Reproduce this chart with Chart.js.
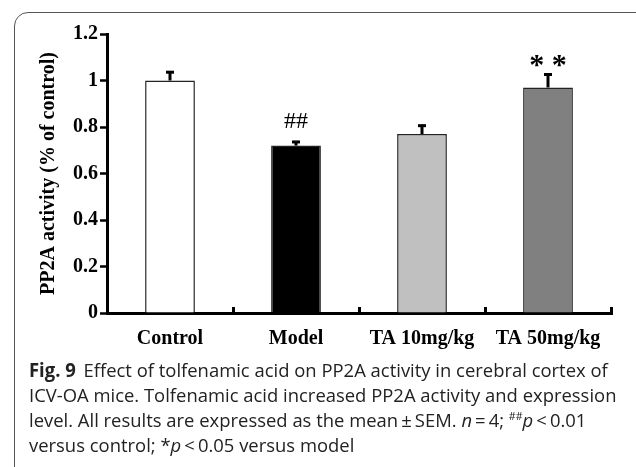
<!DOCTYPE html>
<html>
<head>
<meta charset="utf-8">
<script src="https://cdn.jsdelivr.net/npm/chart.js@4.4.1/dist/chart.umd.min.js"></script>
<style>
  html, body { margin: 0; padding: 0; background: #fff; }
  body { width: 636px; height: 467px; position: relative; overflow: hidden; }
  #frame {
    position: absolute; left: 14px; top: 12px; width: 640px; height: 500px;
    border: 1.5px solid #555; border-radius: 14px; box-sizing: border-box;
  }
  #chartBox { position: absolute; left: 0; top: 0; width: 636px; height: 376px; }
  #caption {
    position: absolute; left: 29px; top: 358px;
    font-family: "Open Sans", sans-serif; font-size: 19px; line-height: 25px;
    color: #222; white-space: nowrap;
    transform: scaleX(0.97); transform-origin: left top;
  }
  #caption b { font-weight: 700; margin-right: 8px; }
  #caption sup { font-size: 11px; line-height: 0; vertical-align: 7px; }
</style>
</head>
<body>
<div id="frame"></div>
<div id="chartBox"><canvas id="pp2aChart"></canvas></div>
<div id="caption">
  <div><b>Fig. 9</b>Effect of tolfenamic acid on PP2A activity in cerebral cortex of</div>
  <div>ICV-OA mice. Tolfenamic acid increased PP2A activity and expression</div>
  <div>level. All results are expressed as the mean&#8201;±&#8201;SEM. <i>n</i>&#8201;=&#8201;4; <sup>##</sup><i>p</i>&#8201;&lt;&#8201;0.01</div>
  <div>versus control; *<i>p</i>&#8201;&lt;&#8201;0.05 versus model</div>
</div>
<script>
const categories = ['Control', 'Model', 'TA 10mg/kg', 'TA 50mg/kg'];
const activity = [1.0, 0.72, 0.77, 0.97];
const sem = [0.04, 0.02, 0.04, 0.06];
const marks = ['', '##', '', '* *'];
const barColors = ['#ffffff', '#000000', '#c0c0c0', '#808080'];

const serif = '"Liberation Serif", "Times New Roman", serif';

// error bars (upper half only) and significance marks
const errorBarPlugin = {
  id: 'errorBars',
  afterDatasetsDraw(chart) {
    const ctx = chart.ctx;
    const yScale = chart.scales.y;
    const meta = chart.getDatasetMeta(0);
    ctx.save();
    meta.data.forEach((bar, i) => {
      const x = bar.x;
      const yTop = yScale.getPixelForValue(activity[i]);
      const yErr = yScale.getPixelForValue(activity[i] + sem[i]);
      ctx.strokeStyle = '#000';
      ctx.lineWidth = 3;
      ctx.beginPath();
      ctx.moveTo(x, yTop);
      ctx.lineTo(x, yErr);
      ctx.stroke();
      ctx.beginPath();
      ctx.moveTo(x - 4, yErr + 1);
      ctx.lineTo(x + 4, yErr + 1);
      ctx.stroke();

      if (marks[i]) {
        ctx.fillStyle = '#000';
        ctx.textAlign = 'center';
        ctx.textBaseline = 'middle';
        if (marks[i] === '##') {
          ctx.font = '24px ' + serif;
          ctx.fillText(marks[i], x, yErr - 19);
        } else {
          ctx.font = 'bold 30px ' + serif;
          ctx.fillText(marks[i], x, yErr - 7);
        }
      }
    });
    ctx.restore();
  }
};

new Chart(document.getElementById('pp2aChart'), {
  type: 'bar',
  data: {
    labels: categories,
    datasets: [{
      data: activity,
      backgroundColor: barColors,
      borderColor: '#222',
      borderWidth: 1.5,
      barPercentage: 0.395,
      categoryPercentage: 1.0
    }]
  },
  options: {
    responsive: true,
    maintainAspectRatio: false,
    animation: false,
    layout: { padding: { left: 33, top: 34, right: 25, bottom: 5 } },
    plugins: { legend: { display: false }, tooltip: { enabled: false } },
    scales: {
      x: {
        offset: true,
        grid: {
          offset: true, drawOnChartArea: false, color: '#000',
          tickLength: -6, tickWidth: 3
        },
        border: { color: '#000', width: 3 },
        ticks: {
          color: '#000', padding: 20,
          font: { family: serif, size: 20, weight: 'bold' }
        }
      },
      y: {
        min: 0, max: 1.2,
        grid: {
          drawOnChartArea: false, color: '#000',
          tickLength: 7, tickWidth: 2.5
        },
        border: { color: '#000', width: 3 },
        ticks: {
          stepSize: 0.2, color: '#000', padding: 2,
          font: { family: serif, size: 20, weight: 'bold' },
          callback: v => String(Number(v.toFixed(1)))
        },
        title: {
          display: true,
          text: 'PP2A activity (% of control)',
          color: '#000',
          padding: { top: 4, bottom: 10 },
          font: { family: serif, size: 20, weight: 'bold' }
        }
      }
    }
  },
  plugins: [errorBarPlugin]
});
</script>
</body>
</html>
